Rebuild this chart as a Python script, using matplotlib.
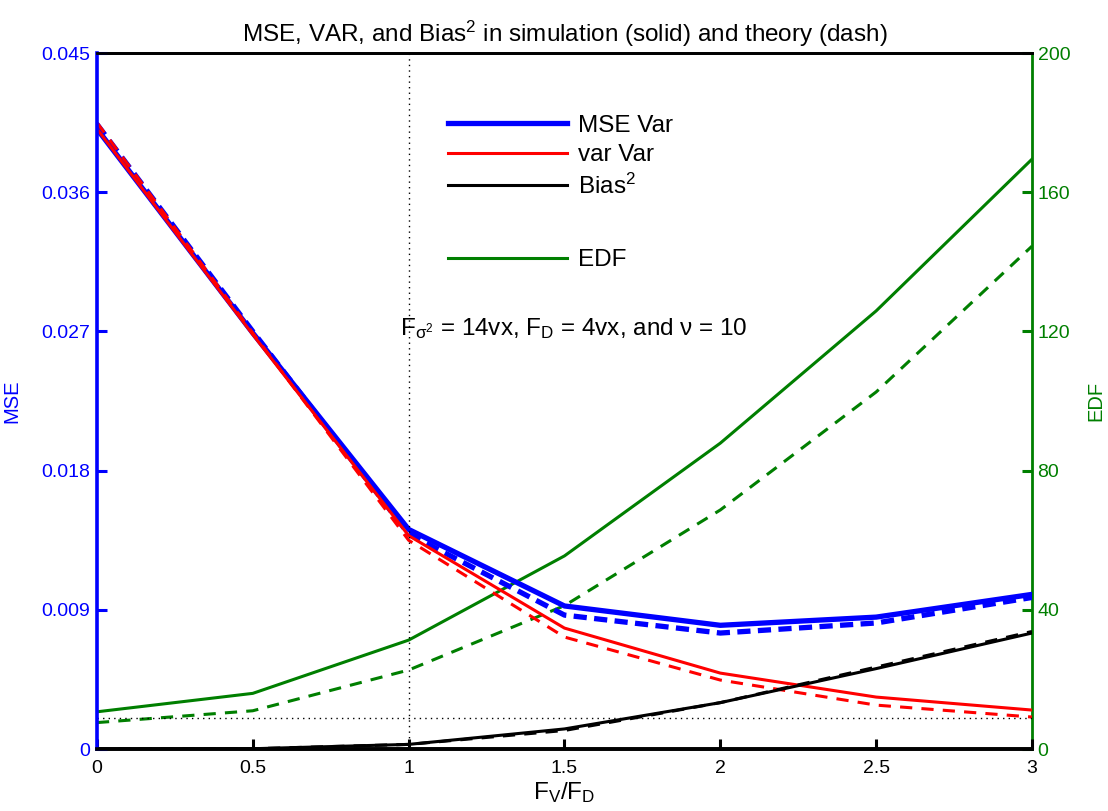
import matplotlib
matplotlib.use("Agg")
import matplotlib.pyplot as plt
from matplotlib.lines import Line2D

plt.rcParams['font.family'] = ['Liberation Sans', 'DejaVu Sans']
plt.rcParams['mathtext.fontset'] = 'custom'
plt.rcParams['mathtext.rm'] = 'Liberation Sans'
plt.rcParams['mathtext.it'] = 'Liberation Sans'
plt.rcParams['mathtext.default'] = 'rm'

ratio = [0, 0.5, 1, 1.5, 2, 2.5, 3]
mse_sim = [0.0401, 0.0269, 0.0142, 0.00925, 0.0080, 0.00853, 0.0100]
mse_theory = [0.0404, 0.0270, 0.0139, 0.00866, 0.0075, 0.00815, 0.0098]
var_sim = [0.0401, 0.0268, 0.0138, 0.00782, 0.00491, 0.00336, 0.00252]
var_theory = [0.0405, 0.0269, 0.0135, 0.00724, 0.00446, 0.00284, 0.00207]
bias_sim = [0.0, 0.00002, 0.0003, 0.0013, 0.0030, 0.0052, 0.0075]
bias_theory = [0.0, 0.00002, 0.0003, 0.0012, 0.0030, 0.0053, 0.0076]
edf_sim = [10.7, 16.0, 31.3, 55.5, 87.9, 125.9, 169.5]
edf_theory = [7.6, 11.0, 22.7, 41.2, 68.7, 102.6, 144.5]
ref_level = 0.002
ref_ratio = 1

left_ticks = [0, 0.009, 0.018, 0.027, 0.036, 0.045]
left_labels = ['0', '0.009', '0.018', '0.027', '0.036', '0.045']
right_ticks = [0, 40, 80, 120, 160, 200]
x_ticks = [0, 0.5, 1, 1.5, 2, 2.5, 3]
x_labels = ['0', '0.5', '1', '1.5', '2', '2.5', '3']

blue = '#0000ff'
red = '#ff0000'
green = '#007f00'

TICK_FS = 14
TEXT_FS = 17.5

fig = plt.figure(figsize=(11.08, 8.11), dpi=100)
ax = fig.add_axes([0.0875, 0.0764, 0.8439, 0.8582])
ax2 = ax.twinx()
ax.set_zorder(ax2.get_zorder() + 1)
ax.patch.set_visible(False)

dash = (0, (4, 3))
# EDF on right axis
ax2.plot(ratio, edf_sim, color=green, lw=2.2)
ax2.plot(ratio, edf_theory, color=green, lw=2.2, ls=dash)
ax2.set_ylim(0, 200)
ax2.set_yticks(right_ticks)
ax2.set_yticklabels([str(t) for t in right_ticks])

ax.plot(ratio, mse_sim, color=blue, lw=3.8)
ax.plot(ratio, mse_theory, color=blue, lw=3.8, ls=(0, (2.5, 1.4)))
ax.plot(ratio, var_sim, color=red, lw=2.2)
ax.plot(ratio, var_theory, color=red, lw=2.2, ls=dash)
ax.plot(ratio, bias_sim, color='black', lw=2.2)
ax.plot(ratio, bias_theory, color='black', lw=2.2, ls=dash)
ax.axhline(ref_level, color='black', lw=1.0, ls=(0, (1, 3)))
ax.axvline(ref_ratio, color='black', lw=1.0, ls=(0, (1, 3)))

ax.set_xlim(0, 3)
ax.set_ylim(0, 0.045)
ax.set_xticks(x_ticks)
ax.set_xticklabels(x_labels)
ax.set_yticks(left_ticks)
ax.set_yticklabels(left_labels)

ax.tick_params(axis='x', direction='in', length=7, width=2.2, labelsize=TICK_FS, pad=8, top=False, colors='black')
ax.tick_params(axis='y', direction='in', length=7, width=2.2, labelsize=TICK_FS, colors=blue, right=False, pad=5)
ax2.tick_params(axis='y', direction='in', length=7, width=2.2, labelsize=TICK_FS, colors=green, pad=4)

for a in (ax, ax2):
    for s in a.spines.values():
        s.set_linewidth(2.0)
    a.spines['left'].set_color(blue)
    a.spines['right'].set_color(green)
    a.spines['bottom'].set_color('black')
    a.spines['top'].set_color('black')
    a.spines['bottom'].set_linewidth(2.6)
ax.spines['left'].set_linewidth(2.6)
ax2.spines['left'].set_visible(False)
ax.spines['right'].set_visible(False)

ax.set_ylabel('MSE', color=blue, fontsize=14.5, labelpad=14)
ax2.set_ylabel('EDF', color=green, fontsize=14.5, labelpad=12)
ax.set_xlabel('F$_V$/F$_D$', fontsize=TEXT_FS, labelpad=2)
ax.set_title('MSE, VAR, and Bias$^2$ in simulation (solid) and theory (dash)', fontsize=TEXT_FS, pad=8)

ax.text(0.972, 0.0272, r'F$_{σ^2}$ = 14vx, F$_D$ = 4vx, and ν = 10', fontsize=TEXT_FS,
        ha='left', va='center')

handles1 = [
    Line2D([], [], color=blue, lw=3.8),
    Line2D([], [], color=red, lw=2.2),
    Line2D([], [], color='black', lw=2.2),
]
labels1 = ['MSE Var', 'var Var', 'Bias$^2$']
leg1 = ax.legend(handles1, labels1, loc='center left', bbox_to_anchor=(0.3754, 0.851), frameon=False,
                 fontsize=TEXT_FS, handlelength=4.9, handletextpad=0.45, labelspacing=0.3,
                 borderpad=0, borderaxespad=0)
ax.add_artist(leg1)
handles2 = [Line2D([], [], color=green, lw=2.2)]
ax.legend(handles2, ['EDF'], loc='center left', bbox_to_anchor=(0.3754, 0.7026), frameon=False,
          fontsize=TEXT_FS, handlelength=4.9, handletextpad=0.45, borderpad=0, borderaxespad=0)

fig.savefig('out.png', dpi=100)
